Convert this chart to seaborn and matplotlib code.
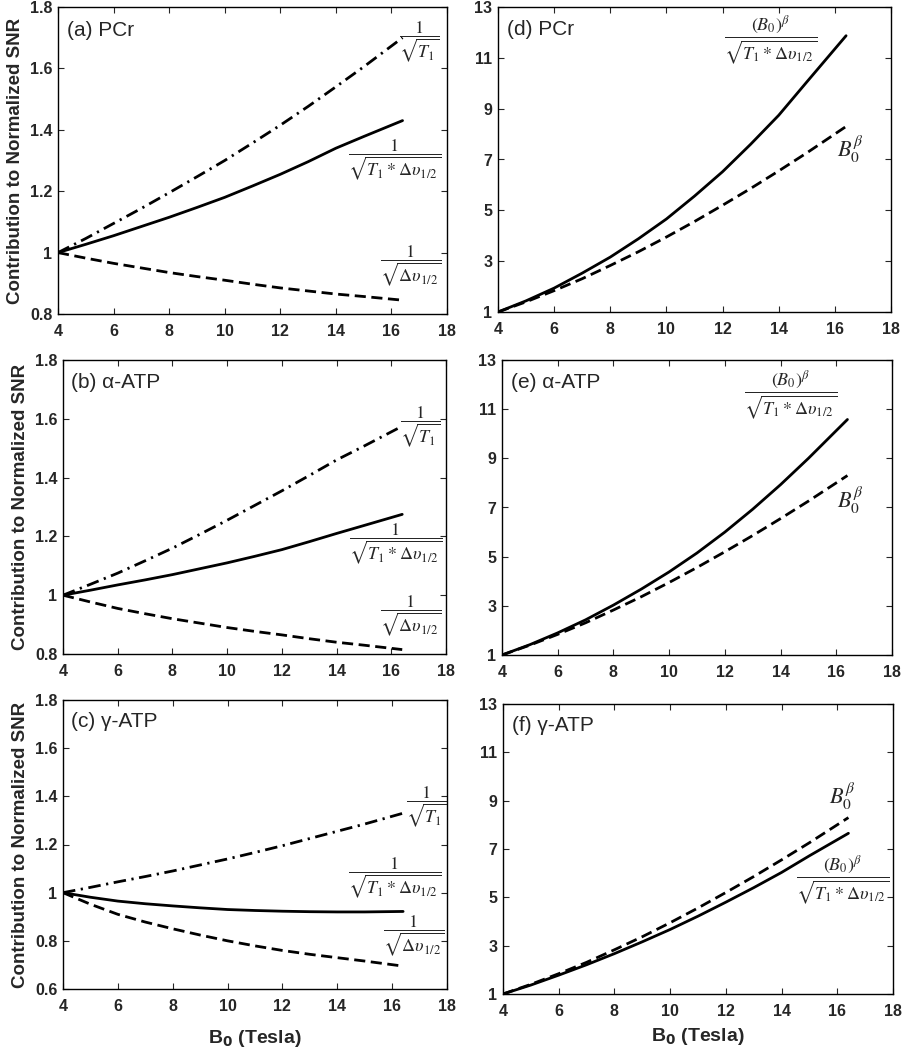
import matplotlib
matplotlib.use("Agg")
import matplotlib.pyplot as plt
import seaborn as sns

# Campo B0 (Tesla)
b0 = [4, 5, 6, 7, 8, 9, 10, 11, 12, 13, 14, 15, 16.4]

# Columna izquierda: contribuciones normalizadas
pcr_t1 = [1.0, 1.046, 1.095, 1.144, 1.195, 1.247, 1.30, 1.357, 1.415, 1.476, 1.54, 1.605, 1.70]
pcr_total = [1.0, 1.027, 1.055, 1.085, 1.115, 1.147, 1.18, 1.217, 1.255, 1.296, 1.34, 1.378, 1.43]
pcr_lw = [1.0, 0.982, 0.965, 0.95, 0.935, 0.922, 0.91, 0.897, 0.885, 0.875, 0.865, 0.857, 0.845]

aatp_t1 = [1.0, 1.037, 1.075, 1.117, 1.16, 1.207, 1.255, 1.305, 1.355, 1.407, 1.46, 1.507, 1.575]
aatp_total = [1.0, 1.017, 1.035, 1.052, 1.07, 1.09, 1.11, 1.132, 1.155, 1.182, 1.21, 1.237, 1.275]
aatp_lw = [1.0, 0.977, 0.955, 0.937, 0.92, 0.905, 0.89, 0.877, 0.865, 0.852, 0.84, 0.83, 0.815]

gatp_t1 = [1.0, 1.022, 1.045, 1.067, 1.09, 1.115, 1.14, 1.167, 1.195, 1.225, 1.255, 1.285, 1.33]
gatp_total = [1.0, 0.981, 0.965, 0.954, 0.945, 0.937, 0.93, 0.926, 0.923, 0.921, 0.92, 0.92, 0.922]
gatp_lw = [1.0, 0.952, 0.91, 0.878, 0.85, 0.824, 0.80, 0.779, 0.76, 0.744, 0.73, 0.716, 0.695]

# Columna derecha: B0^beta y SNR total
b0_beta = [1.0, 1.40, 1.84, 2.31, 2.83, 3.37, 3.95, 4.56, 5.2, 5.86, 6.55, 7.26, 8.3]
pcr_snr = [1.0, 1.44, 1.94, 2.53, 3.16, 3.88, 4.66, 5.56, 6.52, 7.6, 8.74, 10.05, 11.87]
aatp_snr = [1.0, 1.42, 1.90, 2.43, 3.03, 3.68, 4.38, 5.15, 6.0, 6.93, 7.93, 9.0, 10.58]
gatp_snr = [1.0, 1.37, 1.78, 2.21, 2.67, 3.16, 3.67, 4.22, 4.80, 5.40, 6.03, 6.72, 7.65]

titulos_izq = ["(a) PCr", "(b) α-ATP", "(c) γ-ATP"]
titulos_der = ["(d) PCr", "(e) α-ATP", "(f) γ-ATP"]

sns.set_style("ticks")
plt.rcParams["font.family"] = ["Liberation Sans", "DejaVu Sans"]
plt.rcParams["mathtext.fontset"] = "stix"

fig = plt.figure(figsize=(9.02, 10.5), dpi=100)

W, H = 902, 1050
def eje(l, r, t, b):
  return fig.add_axes([l / W, 1 - b / H, (r - l) / W, (b - t) / H])

izq = [eje(58, 447, 7, 314), eje(63, 446, 360, 654), eje(63, 447, 700, 989)]
der = [eje(498, 891, 7, 312), eje(502, 892, 360, 655), eje(503, 893, 704, 994)]

DASH = (0, (4, 2))
DASHDOT = (0, (4.5, 2, 0.8, 2))
LW = 2

f_t1 = r"$\dfrac{1}{\sqrt{T_1}}$"
f_total = r"$\dfrac{1}{\sqrt{T_1 * \Delta\upsilon_{1/2}}}$"
f_lw = r"$\dfrac{1}{\sqrt{\Delta\upsilon_{1/2}}}$"
f_snr = r"$\dfrac{\left(B_0\right)^{\beta}}{\sqrt{T_1 * \Delta\upsilon_{1/2}}}$"
f_beta = r"$B_0^{\beta}$"

series_izq = [(pcr_t1, pcr_total, pcr_lw),
              (aatp_t1, aatp_total, aatp_lw),
              (gatp_t1, gatp_total, gatp_lw)]
# posiciones de etiquetas (x, y) para t1, total, lw
etq_izq = [[(17.0, 1.686), (16.1, 1.30), (16.7, 0.955)],
           [(17.05, 1.571), (16.15, 1.174), (16.7, 0.929)],
           [(17.25, 1.354), (16.1, 1.057), (16.8, 0.82)]]
ylims = [(0.8, 1.8), (0.8, 1.8), (0.6, 1.8)]
yticks_izq = [[0.8, 1.0, 1.2, 1.4, 1.6, 1.8],
              [0.8, 1.0, 1.2, 1.4, 1.6, 1.8],
              [0.6, 0.8, 1.0, 1.2, 1.4, 1.6, 1.8]]

for i, ax in enumerate(izq):
  t1, total, lw = series_izq[i]
  sns.lineplot(x=b0, y=t1, ax=ax, color="k", lw=LW, linestyle=DASHDOT)
  sns.lineplot(x=b0, y=total, ax=ax, color="k", lw=LW, linestyle="-")
  sns.lineplot(x=b0, y=lw, ax=ax, color="k", lw=LW, linestyle=DASH)
  for (xx, yy), f in zip(etq_izq[i], [f_t1, f_total, f_lw]):
    ax.text(xx, yy, f, fontsize=13, ha="center", va="center")
  ax.set_ylim(*ylims[i])
  ax.set_yticks(yticks_izq[i])
  ax.set_ylabel("Contribution to Normalized SNR", fontsize=13.5, fontweight="bold")
  ax.text(0.022, 0.925, titulos_izq[i], transform=ax.transAxes, fontsize=15,
          ha="left", va="center")

series_der = [pcr_snr, aatp_snr, gatp_snr]
etq_der = [[(13.7, 11.69), (16.55, 7.39)],
           [(14.37, 11.54), (16.5, 7.3)],
           [(16.2, 5.69), (16.17, 9.17)]]

for i, ax in enumerate(der):
  sns.lineplot(x=b0, y=series_der[i], ax=ax, color="k", lw=LW, linestyle="-")
  sns.lineplot(x=b0, y=b0_beta, ax=ax, color="k", lw=LW, linestyle=DASH)
  (x1, y1), (x2, y2) = etq_der[i]
  ax.text(x1, y1, f_snr, fontsize=13, ha="center", va="center")
  ax.text(x2, y2, f_beta, fontsize=16, ha="center", va="center")
  ax.set_ylim(1, 13)
  ax.set_yticks([1, 3, 5, 7, 9, 11, 13])
  ax.text(0.022, 0.925, titulos_der[i], transform=ax.transAxes, fontsize=15,
          ha="left", va="center")

for ax in izq + der:
  ax.set_xlim(4, 18)
  ax.set_xticks([4, 6, 8, 10, 12, 14, 16, 18])
  ax.yaxis.set_major_formatter(matplotlib.ticker.FormatStrFormatter("%g"))
  ax.tick_params(direction="in", top=True, right=True, length=4, width=0.8,
                 labelsize=11.5)
  ax.tick_params(axis="x", pad=7)
  ax.tick_params(axis="y", pad=4)
  for lab in ax.get_xticklabels() + ax.get_yticklabels():
    lab.set_fontweight("bold")
  for s in ax.spines.values():
    s.set_visible(True)
    s.set_linewidth(1)
    s.set_color("k")
  ax.set_xlabel("")

for ax, pad in [(izq[2], 10), (der[2], 5)]:
  ax.set_xlabel(r"B$_\mathbf{0}$ (Tesla)", fontsize=14, fontweight="bold",
                labelpad=pad, math_fontfamily="dejavusans")

fig.savefig("out.png", dpi=100)
plt.close()
